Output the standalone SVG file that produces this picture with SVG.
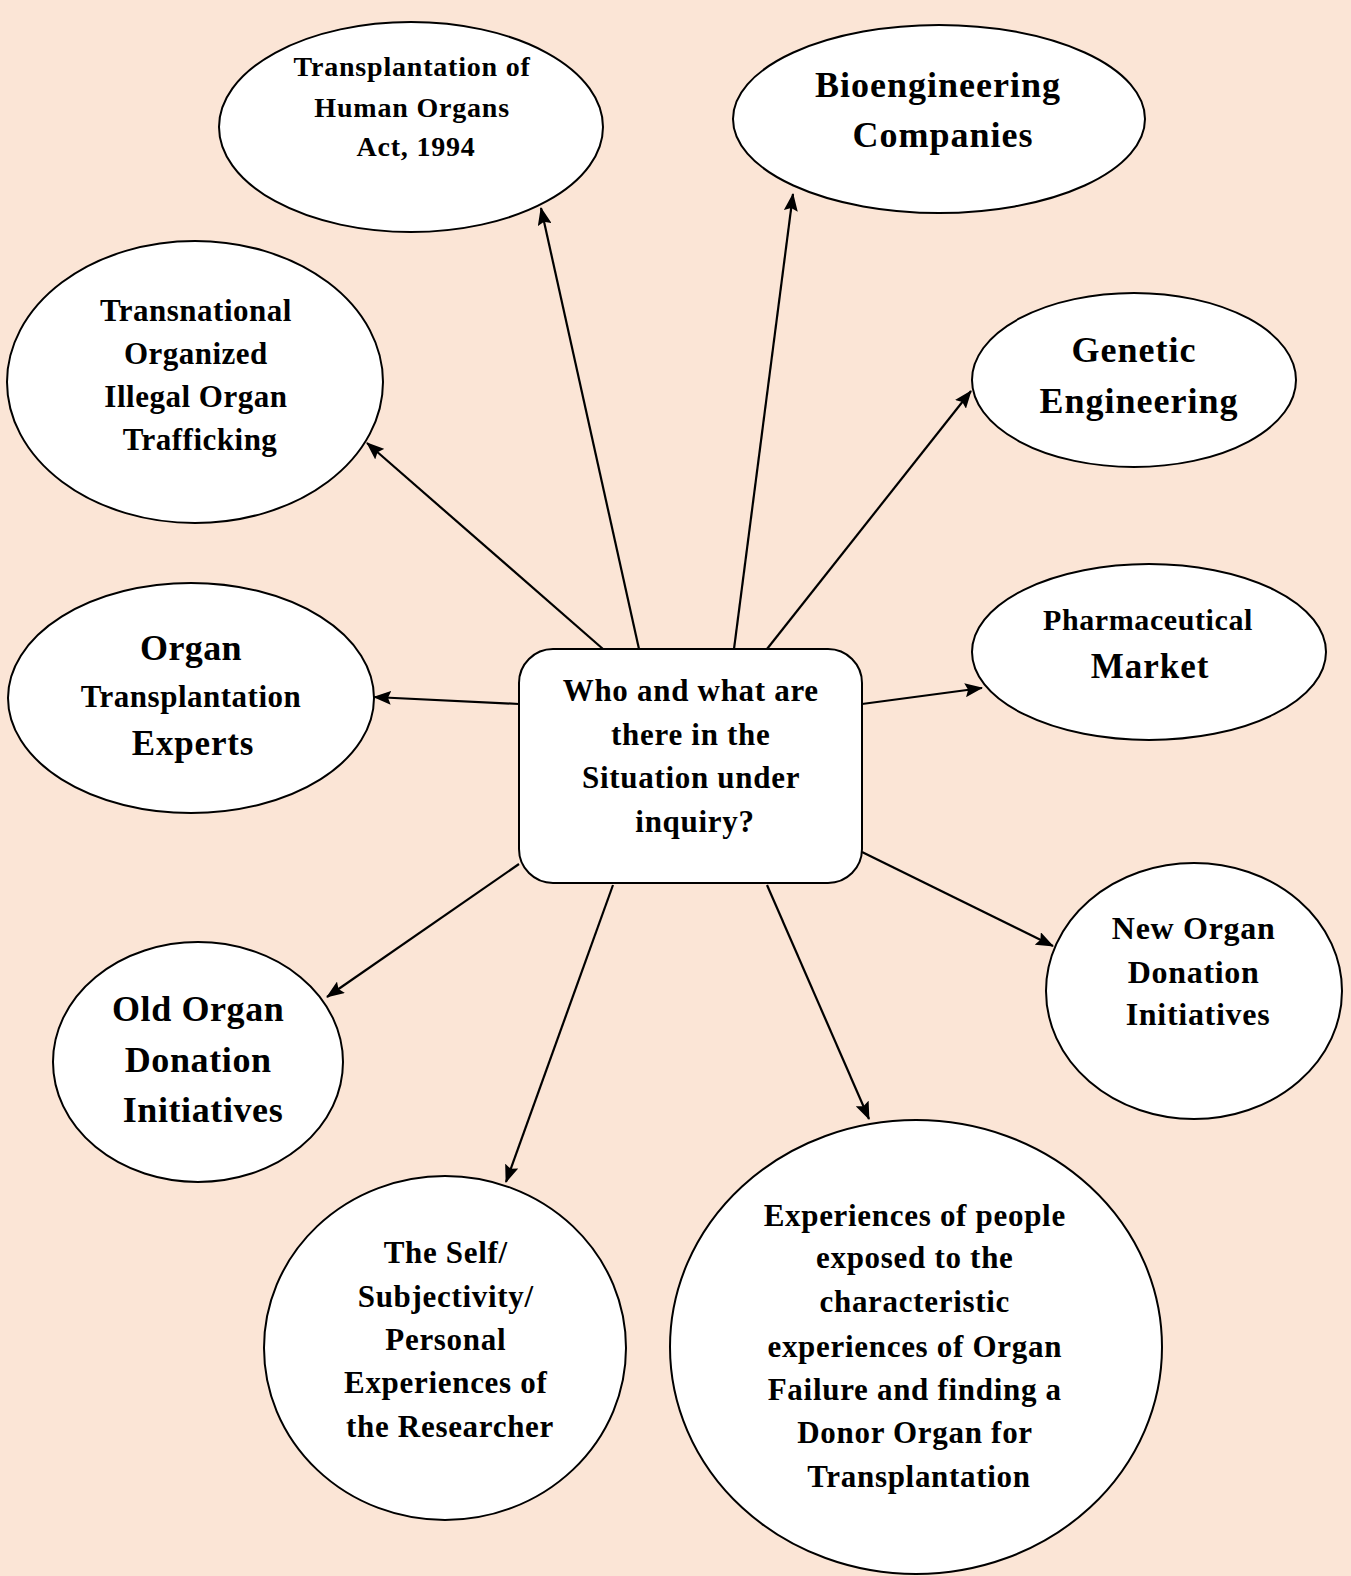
<svg xmlns="http://www.w3.org/2000/svg" width="1351" height="1576" viewBox="0 0 1351 1576">
  <style>
    .node { fill: #ffffff; stroke: #000000; stroke-width: 2; }
    .lbl { font-family: "Liberation Serif", "Times New Roman", serif; font-weight: bold; fill: #000000; text-anchor: middle; }
    .edge { stroke: #000000; stroke-width: 2.2; fill: none; marker-end: url(#arrow); }
  </style>
  <defs>
    <marker id="arrow" markerUnits="userSpaceOnUse" markerWidth="18" markerHeight="14" refX="17" refY="7" orient="auto">
      <path d="M0,0 L18,7 L0,14 L3,7 z" fill="#000000"/>
    </marker>
  </defs>

  <!-- page background -->
  <rect x="0" y="0" width="1351" height="1576" fill="#FBE5D6"/>

  <!-- connectors from the central question to each element -->
  <g id="connectors">
    <line class="edge" x1="639" y1="649" x2="541" y2="208"/>
    <line class="edge" x1="734" y1="649" x2="793" y2="194"/>
    <line class="edge" x1="603" y1="649" x2="367" y2="443"/>
    <line class="edge" x1="767" y1="649" x2="971" y2="391"/>
    <line class="edge" x1="519" y1="704" x2="374" y2="697"/>
    <line class="edge" x1="862" y1="704" x2="982" y2="688"/>
    <line class="edge" x1="519" y1="864" x2="327" y2="997"/>
    <line class="edge" x1="862" y1="852" x2="1053" y2="946"/>
    <line class="edge" x1="613" y1="885" x2="506" y2="1182"/>
    <line class="edge" x1="767" y1="885" x2="869" y2="1119"/>
  </g>

  <!-- central question -->
  <g id="center">
    <rect class="node" x="519" y="649" width="343" height="234" rx="34" ry="34"/>
    <text class="lbl" font-size="31" letter-spacing="0.7">
      <tspan x="695" y="701">Who and what are</tspan>
      <tspan x="695" y="745">there in the</tspan>
      <tspan x="695" y="788">Situation under</tspan>
      <tspan x="695" y="832">inquiry?</tspan>
    </text>
  </g>

  <g id="act1994">
    <ellipse class="node" cx="411" cy="127" rx="192" ry="105"/>
    <text class="lbl" font-size="28" letter-spacing="0.8">
      <tspan x="416" y="76">Transplantation of</tspan>
      <tspan x="416" y="117">Human Organs</tspan>
      <tspan x="416" y="156">Act, 1994</tspan>
    </text>
  </g>

  <g id="bioengineering">
    <ellipse class="node" cx="939" cy="119" rx="206" ry="94"/>
    <text class="lbl" font-size="36" letter-spacing="1">
      <tspan x="943" y="97">Bioengineering</tspan>
      <tspan x="943" y="147">Companies</tspan>
    </text>
  </g>

  <g id="trafficking">
    <ellipse class="node" cx="195" cy="382" rx="188" ry="141"/>
    <text class="lbl" font-size="31" letter-spacing="0.5">
      <tspan x="200" y="321">Transnational</tspan>
      <tspan x="200" y="364">Organized</tspan>
      <tspan x="200" y="407">Illegal Organ</tspan>
      <tspan x="200" y="450">Trafficking</tspan>
    </text>
  </g>

  <g id="genetic">
    <ellipse class="node" cx="1134" cy="380" rx="162" ry="87"/>
    <text class="lbl" font-size="36" letter-spacing="1">
      <tspan x="1139" y="362">Genetic</tspan>
      <tspan x="1139" y="413">Engineering</tspan>
    </text>
  </g>

  <g id="pharma">
    <ellipse class="node" cx="1149" cy="652" rx="177" ry="88"/>
    <text class="lbl">
      <tspan x="1150" y="630" font-size="30" letter-spacing="0.6">Pharmaceutical</tspan>
      <tspan x="1150" y="678" font-size="35" letter-spacing="1">Market</tspan>
    </text>
  </g>

  <g id="experts">
    <ellipse class="node" cx="191" cy="698" rx="183" ry="115"/>
    <text class="lbl">
      <tspan x="193" y="660" font-size="36" letter-spacing="0.4">Organ</tspan>
      <tspan x="193" y="707" font-size="31" letter-spacing="0.5">Transplantation</tspan>
      <tspan x="193" y="755" font-size="35" letter-spacing="0.8">Experts</tspan>
    </text>
  </g>

  <g id="new-initiatives">
    <ellipse class="node" cx="1194" cy="991" rx="148" ry="128"/>
    <text class="lbl" font-size="32" letter-spacing="0.7">
      <tspan x="1198" y="939">New Organ</tspan>
      <tspan x="1198" y="983">Donation</tspan>
      <tspan x="1198" y="1025">Initiatives</tspan>
    </text>
  </g>

  <g id="old-initiatives">
    <ellipse class="node" cx="198" cy="1062" rx="145" ry="120"/>
    <text class="lbl" font-size="36" letter-spacing="0.6">
      <tspan x="203" y="1021">Old Organ</tspan>
      <tspan x="203" y="1072">Donation</tspan>
      <tspan x="203" y="1122">Initiatives</tspan>
    </text>
  </g>

  <g id="researcher">
    <ellipse class="node" cx="445" cy="1348" rx="181" ry="172"/>
    <text class="lbl" font-size="31" letter-spacing="0.7">
      <tspan x="450" y="1263">The Self/</tspan>
      <tspan x="450" y="1307">Subjectivity/</tspan>
      <tspan x="450" y="1350">Personal</tspan>
      <tspan x="450" y="1393">Experiences of</tspan>
      <tspan x="450" y="1437">the Researcher</tspan>
    </text>
  </g>

  <g id="patients">
    <ellipse class="node" cx="916" cy="1347" rx="246" ry="227"/>
    <text class="lbl" font-size="31" letter-spacing="0.7">
      <tspan x="919" y="1226">Experiences of people</tspan>
      <tspan x="919" y="1268">exposed to the</tspan>
      <tspan x="919" y="1312">characteristic</tspan>
      <tspan x="919" y="1357">experiences of Organ</tspan>
      <tspan x="919" y="1400">Failure and finding a</tspan>
      <tspan x="919" y="1443">Donor Organ for</tspan>
      <tspan x="919" y="1487">Transplantation</tspan>
    </text>
  </g>
</svg>
